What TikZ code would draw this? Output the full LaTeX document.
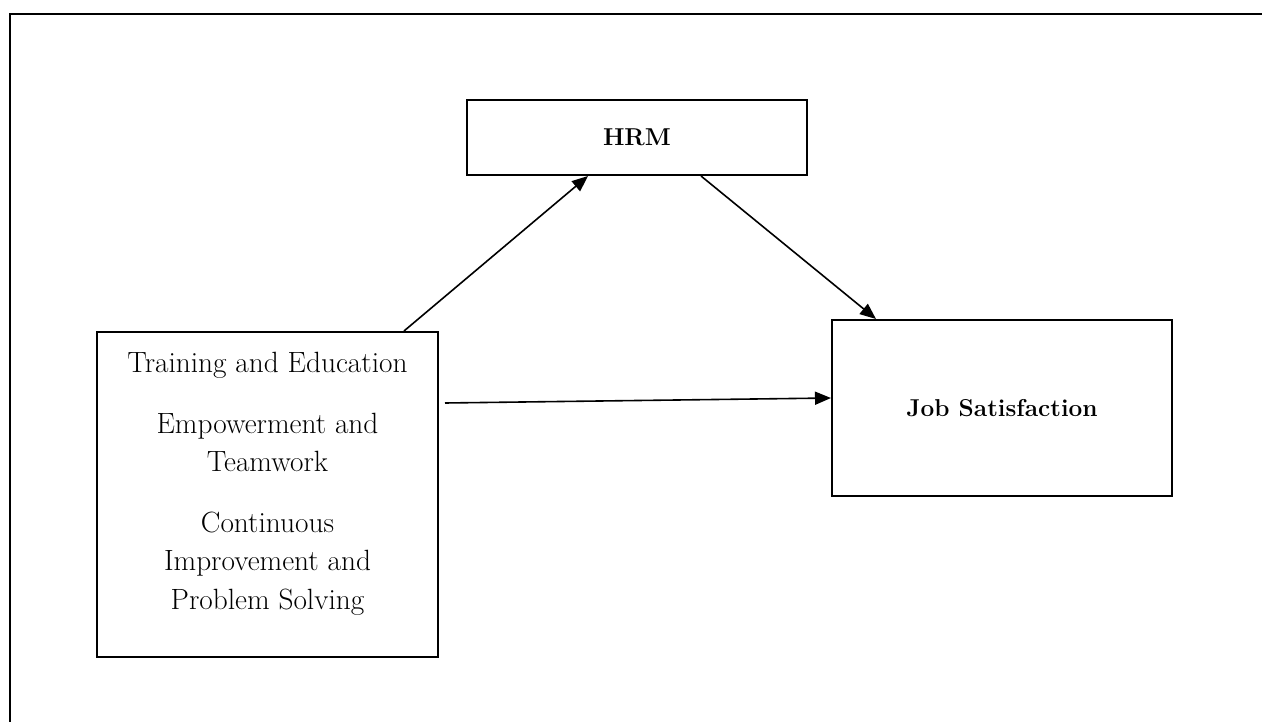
\documentclass[tikz,border=0pt]{standalone}
\usepackage{fontspec}
\usetikzlibrary{arrows.meta}
\tikzset{
  box/.style={draw,rectangle,line width=2pt,inner sep=0pt},
  link/.style={line width=1.6pt,-{Triangle[length=16pt,width=13pt]}},
  lbl/.style={font=\fontsize{29.3}{38.5}\selectfont,align=center,inner sep=0pt},
  head/.style={font=\fontsize{24.4}{28}\selectfont\bfseries}
}
\begin{document}
\begin{tikzpicture}[x=1pt,y=-1pt]
        \useasboundingbox (0,0) rectangle (1262,722);
        \draw[line width=2.2pt] (10,722) -- (10,14) -- (1262,14);
        \draw (637,137.5) node[box,head,minimum width=340pt,minimum height=75pt] (HRM) {HRM};
        \draw (267.5,494.5) node[box,minimum width=341pt,minimum height=325pt] (TQM) {};
        \draw (267.5,484) node[lbl] (TQMtext) {Training and Education\\[22pt]
          Empowerment and\\Teamwork\\[22pt]
          Continuous\\Improvement and\\Problem Solving};
        \draw (1002,408) node[box,head,minimum width=340pt,minimum height=176pt] (JS) {Job Satisfaction};
        \draw[link] ([xshift=-35pt]TQM.north east) -- ([xshift=-220pt]HRM.south east);
        \draw[link] ([xshift=-107pt]HRM.south east) -- ([xshift=45pt]JS.north west);
        \draw[link] ([xshift=6pt,yshift=91.5pt]TQM.east) -- ([yshift=10pt]JS.west);
\end{tikzpicture}
\end{document}
